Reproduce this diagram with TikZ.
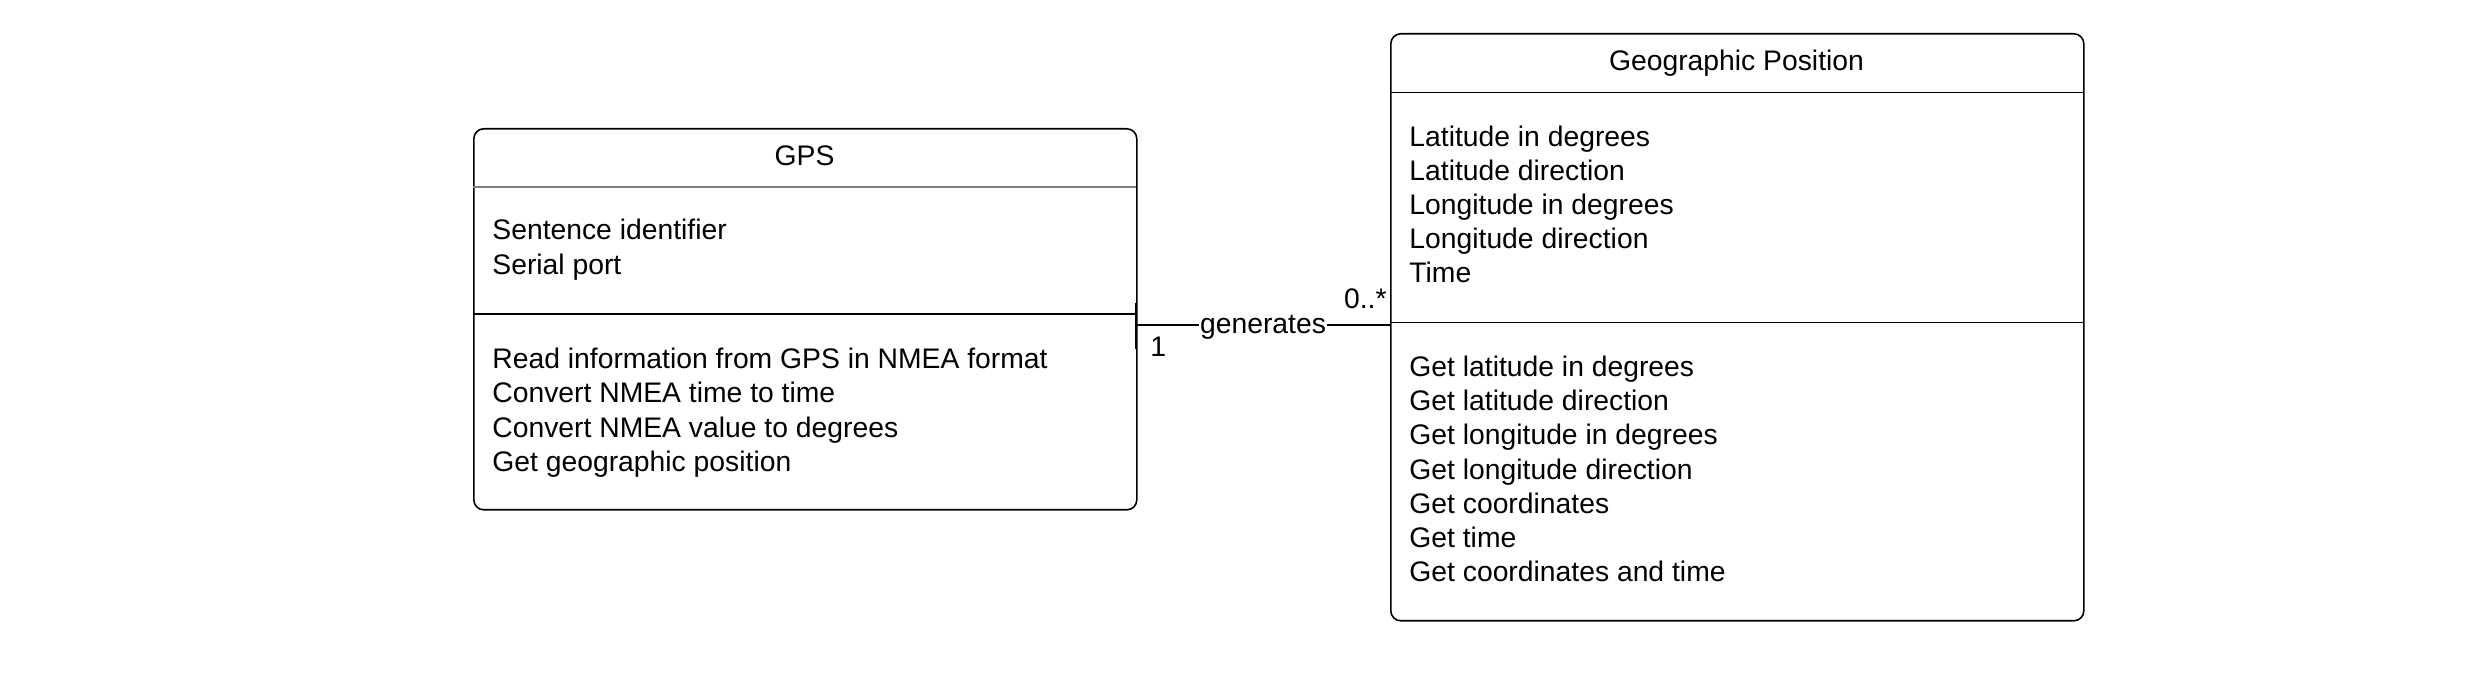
\documentclass[tikz,border=0pt]{standalone}
\usepackage{fontspec}
\setmainfont{Liberation Sans}
\usetikzlibrary{positioning}

\begin{document}
\begin{tikzpicture}[x=0.5pt, y=-0.5pt, font=\fontsize{14.15}{17}\selectfont,
  classbox/.style={draw, rounded corners=5pt, line width=0.8pt, inner sep=0pt, anchor=north west},
  member/.style={anchor=base west, inner sep=0pt},
  classname/.style={anchor=base, inner sep=0pt}]

\useasboundingbox (0,0) rectangle (2488,688);

% GPS class
\node[classbox, minimum width=331.5pt, minimum height=190.5pt] (gps) at (473,128) {};
\draw [gray, line width=0.6pt] (473,187) -- (1136,187);
\draw [line width=0.8pt] (473,314) -- (1136,314);
\node[classname] (gpsname) at (804.5,165.5) {GPS};
\foreach \txt [count=\i] in {Sentence identifier, Serial port}
  \node[member] (gpsattr\i) at (492,240+34.4*\i-34.4) {\txt};
\foreach \txt [count=\i] in {Read information from GPS in NMEA format, Convert NMEA time to time,
    Convert NMEA value to degrees, Get geographic position}
  \node[member] (gpsop\i) at (492,368.5+34.4*\i-34.4) {\txt};

% Geographic Position class
\node[classbox, minimum width=346.5pt, minimum height=293.5pt] (geo) at (1390,33) {};
\draw [line width=0.8pt] (1390,92.5) -- (2083,92.5);
\draw [line width=0.8pt] (1390,322.5) -- (2083,322.5);
\node[classname] (geoname) at (1736.5,71) {Geographic Position};
\foreach \txt [count=\i] in {Latitude in degrees, Latitude direction, Longitude in degrees,
    Longitude direction, Time}
  \node[member] (geoattr\i) at (1409,146.5+34*\i-34) {\txt};
\foreach \txt [count=\i] in {Get latitude in degrees, Get latitude direction, Get longitude in degrees,
    Get longitude direction, Get coordinates, Get time, Get coordinates and time}
  \node[member] (geoop\i) at (1409,376.5+34.2*\i-34.2) {\txt};

% association
\coordinate (gpsport) at (1136,325);
\coordinate (geoport) at (1390,325);
\draw [line width=0.8pt] (gpsport) -- node[fill=white, inner sep=0.5pt, yshift=-1pt] (assoc) {generates} (geoport);
\draw [line width=1.2pt] (gpsport) ++(0,-22) -- ++(0,46);
\node[anchor=base west, inner sep=0pt] (multone) at (1150,357) {1};
\node[anchor=base east, inner sep=0pt] (multmany) at (1387,309) {0..*};
\end{tikzpicture}
\end{document}
